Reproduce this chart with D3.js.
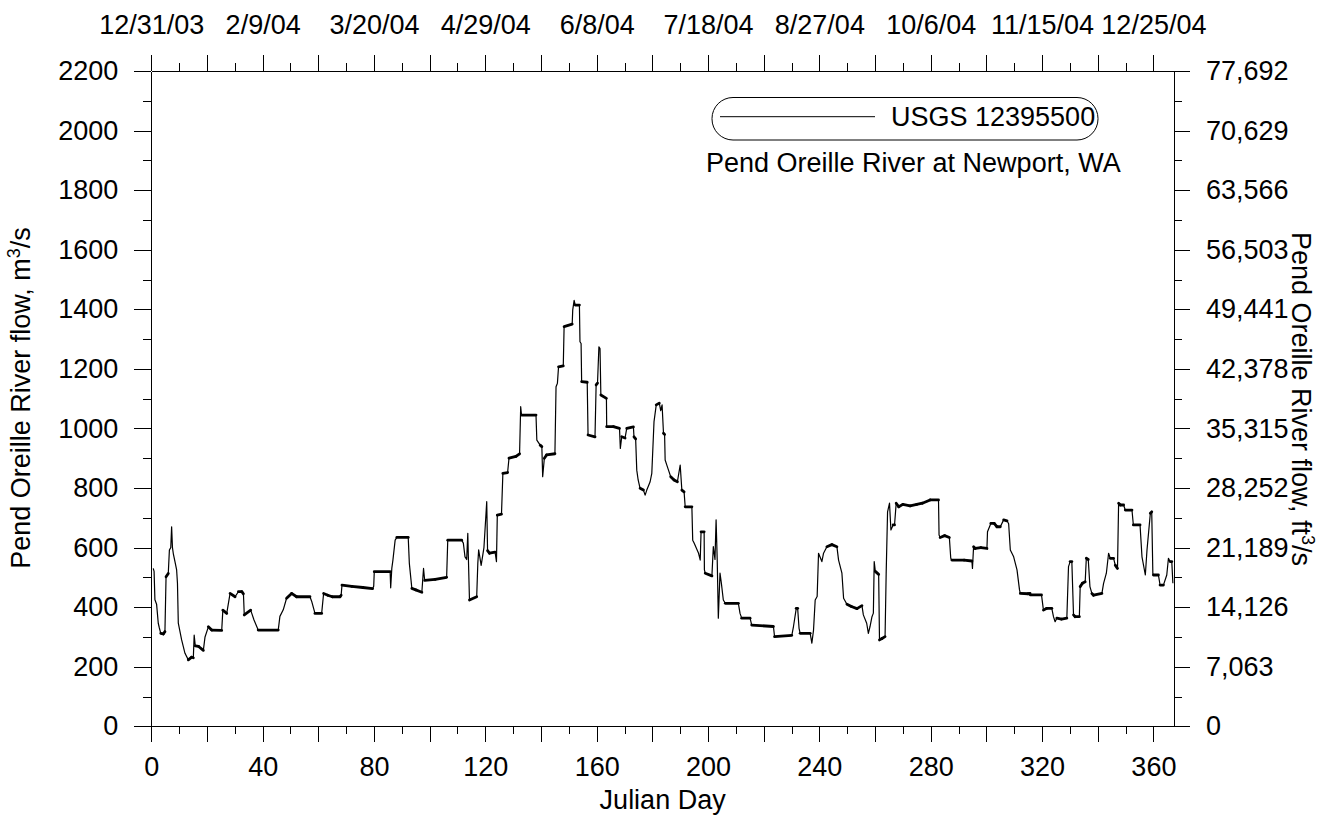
<!DOCTYPE html>
<html>
<head>
<meta charset="utf-8">
<script src="https://cdn.jsdelivr.net/npm/d3@7"></script>
<style>
  html, body { margin: 0; padding: 0; background: #fff; }
  svg text { font-family: "Liberation Sans", Arial, Helvetica, sans-serif; fill: #000; }
  .axis path, .axis line { stroke: #000; stroke-width: 1; shape-rendering: crispEdges; }
</style>
</head>
<body>
<svg id="chart" width="1326" height="821"></svg>
<script>
// Julian day of each reading (breakpoints of the hourly record)
const days = [
  0.7, 1.0, 1.3, 1.9, 2.5, 2.9, 3.4, 4.3, 4.9, 5.3, 6.1, 6.5, 7.0, 7.3, 7.6, 7.9, 8.5, 9.1, 9.4, 9.7,
  10.9, 12.1, 13.3, 14.5, 15.1, 15.4, 15.8, 17.0, 18.7, 19.3, 20.5, 21.7, 25.3, 25.7, 27.1, 28.3, 30.1, 31.3, 32.5, 33.1,
  33.4, 35.7, 36.9, 38.4, 45.6, 46.2, 47.4, 48.6, 50.4, 52.2, 57.0, 57.6, 58.8, 61.2, 61.9, 63.4, 65.0, 67.8, 68.2, 68.5,
  72.0, 76.0, 79.5, 79.9, 80.1, 85.8, 86.0, 86.4, 86.8, 87.6, 88.2, 92.3, 92.7, 93.6, 95.0, 97.2, 97.5, 97.8, 98.2, 102.0,
  106.1, 106.5, 111.5, 112.1, 112.7, 113.3, 113.7, 113.9, 114.3, 116.9, 117.3, 117.6, 118.5, 119.5, 120.5, 120.8, 121.5, 123.5, 124.0, 124.3,
  125.8, 126.3, 128.0, 128.5, 131.0, 132.3, 132.7, 133.0, 138.2, 138.5, 139.7, 140.3, 140.6, 141.2, 142.0, 145.0, 145.4, 145.9, 146.3, 148.0,
  148.3, 151.2, 151.4, 151.9, 152.3, 153.8, 154.0, 154.4, 154.6, 156.6, 156.9, 159.4, 159.8, 160.3, 160.8, 161.2, 161.5, 163.5, 163.6, 166.0,
  168.2, 168.5, 169.0, 170.2, 170.8, 173.2, 173.4, 174.0, 174.4, 174.9, 175.6, 176.8, 177.4, 178.0, 179.2, 179.8, 180.6, 181.4, 182.5, 183.0,
  183.5, 184.0, 184.4, 184.6, 185.2, 185.8, 186.6, 187.8, 189.0, 190.0, 190.6, 191.4, 191.8, 194.2, 194.5, 195.0, 196.6, 197.2, 197.5, 198.6,
  198.7, 199.0, 201.4, 201.9, 202.5, 202.9, 203.3, 203.7, 204.3, 204.8, 205.5, 206.2, 210.9, 211.5, 212.1, 215.1, 215.7, 223.5, 223.9, 230.1,
  230.7, 231.7, 232.2, 232.7, 233.1, 236.7, 237.3, 237.9, 238.5, 239.2, 239.7, 240.9, 241.5, 242.7, 244.5, 246.3, 246.9, 248.1, 248.7, 249.9,
  251.5, 253.5, 255.3, 255.8, 257.0, 257.6, 258.2, 258.9, 259.4, 259.7, 260.1, 261.3, 261.6, 262.5, 263.6, 264.0, 264.5, 265.2, 265.7, 266.5,
  267.0, 267.6, 268.5, 270.0, 272.6, 275.0, 277.0, 279.8, 282.8, 283.0, 283.4, 285.0, 286.7, 287.2, 287.6, 292.0, 294.8, 295.0, 295.4, 296.0,
  298.0, 300.2, 300.4, 301.6, 302.8, 303.8, 305.0, 306.2, 307.4, 308.0, 308.6, 309.8, 311.0, 311.9, 312.2, 315.0, 315.7, 315.8, 319.8, 320.5,
  321.7, 323.5, 324.1, 324.7, 325.3, 327.0, 328.9, 329.5, 330.1, 330.7, 331.3, 331.9, 333.4, 333.7, 334.5, 335.5, 335.9, 336.6, 337.2, 337.9,
  338.5, 341.5, 342.1, 343.1, 343.9, 344.5, 345.7, 346.3, 347.1, 347.5, 348.1, 349.3, 349.9, 352.3, 352.8, 355.2, 355.9, 357.1, 357.7, 358.9,
  359.4, 359.8, 360.0, 361.8, 362.4, 363.6, 364.8, 365.4, 366.0, 366.6, 367.0
];

// Discharge at each reading, m³/s
const flow = [
  530, 520, 425, 410, 346, 330, 312, 310, 318, 502, 513, 592, 600, 670, 600, 580, 553, 525, 480, 346,
  290, 245, 223, 232, 230, 306, 270, 268, 255, 300, 334, 323, 322, 390, 379, 446, 435, 452, 452, 445,
  374, 390, 357, 323, 323, 369, 391, 430, 446, 435, 435, 420, 379, 379, 446, 440, 435, 435, 440, 474,
  470, 466, 462, 470, 519, 519, 465, 530, 558, 625, 634, 634, 547, 463, 458, 450, 491, 530, 490, 493,
  500, 625, 625, 615, 569, 560, 648, 569, 424, 435, 547, 592, 540, 600, 754, 590, 581, 585, 553, 709,
  712, 849, 852, 900, 906, 915, 1073, 1045, 1045, 961, 944, 939, 838, 900, 911, 915, 1140, 1152, 1207, 1210,
  1342, 1350, 1398, 1430, 1414, 1414, 1291, 1285, 1157, 1155, 978, 972, 1146, 1152, 1274, 1268, 1112, 1101, 1006, 1006,
  1000, 933, 972, 968, 1000, 1005, 972, 965, 860, 827, 799, 793, 776, 793, 821, 849, 1023, 1079, 1085, 1060,
  1079, 984, 980, 894, 877, 860, 838, 827, 821, 877, 793, 787, 737, 737, 625, 615, 581, 558, 653, 653,
  525, 514, 505, 603, 560, 693, 560, 363, 514, 480, 424, 413, 413, 379, 363, 363, 340, 335, 301, 305,
  335, 396, 396, 329, 312, 312, 279, 323, 424, 436, 581, 553, 581, 603, 610, 603, 558, 514, 430, 410,
  402, 395, 405, 374, 346, 312, 335, 368, 380, 553, 520, 510, 290, 295, 301, 514, 720, 749, 659, 676,
  676, 749, 737, 745, 740, 745, 749, 760, 760, 642, 634, 640, 634, 564, 558, 558, 555, 530, 603, 597,
  600, 597, 653, 681, 681, 670, 670, 693, 690, 680, 592, 569, 525, 458, 446, 445, 446, 441, 441, 390,
  396, 396, 368, 351, 363, 360, 363, 536, 553, 553, 374, 368, 368, 469, 480, 485, 564, 560, 469, 446,
  440, 446, 480, 514, 581, 564, 564, 541, 530, 749, 743, 743, 726, 726, 676, 676, 569, 508, 592, 715,
  720, 514, 508, 508, 474, 474, 508, 564, 553, 553, 480
];

// Axis ticks and labels
const bottomLabelDays = [0, 40, 80, 120, 160, 200, 240, 280, 320, 360];
const topDateLabels = ["12/31/03", "2/9/04", "3/20/04", "4/29/04", "6/8/04",
                       "7/18/04", "8/27/04", "10/6/04", "11/15/04", "12/25/04"];
const leftTicks = [0, 200, 400, 600, 800, 1000, 1200, 1400, 1600, 1800, 2000, 2200];
const rightTickLabels = ["0", "7,063", "14,126", "21,189", "28,252", "35,315",
                         "42,378", "49,441", "56,503", "63,566", "70,629", "77,692"];

const legendLabel = "USGS 12395500";
const stationName = "Pend Oreille River at Newport, WA";

const svg = d3.select("#chart");
const FONT = 27;

const plot = { left: 151.3, right: 1174, top: 71, bottom: 726.3 };

const x = d3.scaleLinear().domain([0, 367.4]).range([plot.left, plot.right]);
const y = d3.scaleLinear().domain([0, 2200]).range([plot.bottom, plot.top]);

const majorX = d3.range(0, 361, 20);
const minorX = d3.range(10, 367, 20);
const minorY = d3.range(100, 2200, 200);

function styleAxis(g) {
  g.attr("class", "axis");
  g.select(".domain").attr("stroke", "#000");
  g.selectAll("text").style("font-size", FONT + "px").attr("fill", "#000");
}

// bottom axis: minor ticks, then major ticks with labels every 40 days
svg.append("g").attr("transform", `translate(0,${plot.bottom})`)
  .call(d3.axisBottom(x).tickValues(minorX).tickSize(8).tickSizeOuter(0).tickFormat(""))
  .call(styleAxis);
svg.append("g").attr("transform", `translate(0,${plot.bottom})`)
  .call(d3.axisBottom(x).tickValues(majorX).tickSize(16).tickSizeOuter(0).tickPadding(15)
    .tickFormat(d => bottomLabelDays.includes(d) ? d : ""))
  .call(styleAxis);

// top axis: calendar dates
svg.append("g").attr("transform", `translate(0,${plot.top})`)
  .call(d3.axisTop(x).tickValues(minorX).tickSize(8).tickSizeOuter(0).tickFormat(""))
  .call(styleAxis);
svg.append("g").attr("transform", `translate(0,${plot.top})`)
  .call(d3.axisTop(x).tickValues(majorX).tickSize(16).tickSizeOuter(0).tickPadding(21)
    .tickFormat(d => {
      const i = bottomLabelDays.indexOf(d);
      return i >= 0 ? topDateLabels[i] : "";
    }))
  .call(styleAxis);

// left axis, m³/s
svg.append("g").attr("transform", `translate(${plot.left},0)`)
  .call(d3.axisLeft(y).tickValues(minorY).tickSize(8).tickSizeOuter(0).tickFormat(""))
  .call(styleAxis);
svg.append("g").attr("transform", `translate(${plot.left},0)`)
  .call(d3.axisLeft(y).tickValues(leftTicks).tickSize(17).tickSizeOuter(0).tickPadding(16)
    .tickFormat(d3.format("d")))
  .call(styleAxis);

// right axis, ft³/s (same positions as the m³/s ticks)
svg.append("g").attr("transform", `translate(${plot.right},0)`)
  .call(d3.axisRight(y).tickValues(minorY).tickSize(8).tickSizeOuter(0).tickFormat(""))
  .call(styleAxis);
svg.append("g").attr("transform", `translate(${plot.right},0)`)
  .call(d3.axisRight(y).tickValues(leftTicks).tickSize(16).tickSizeOuter(0).tickPadding(16)
    .tickFormat((d, i) => rightTickLabels[i]))
  .call(styleAxis);

// discharge trace: thin line for the whole record, heavier where the flow
// holds near-steady (the hourly jitter thickens those stretches)
const series = days.map((d, i) => ({ day: d, q: flow[i] }));
const line = d3.line().x(d => x(d.day)).y(d => y(d.q));

svg.append("path")
  .datum(series)
  .attr("fill", "none")
  .attr("stroke", "#000")
  .attr("stroke-width", 1.2)
  .attr("stroke-linejoin", "round")
  .attr("d", line);

const flatSegs = d3.pairs(series).filter(([a, b]) => {
  const dx = Math.abs(x(b.day) - x(a.day));
  const dy = Math.abs(y(b.q) - y(a.q));
  return dy < dx * 1.5;
});
svg.append("g").selectAll("path")
  .data(flatSegs)
  .join("path")
  .attr("fill", "none")
  .attr("stroke", "#000")
  .attr("stroke-width", 2.8)
  .attr("stroke-linecap", "round")
  .attr("d", d => line(d));

// legend box
const lg = svg.append("g");
lg.append("rect")
  .attr("x", 712).attr("y", 97.5).attr("width", 386).attr("height", 42.5)
  .attr("rx", 21).attr("ry", 21)
  .attr("fill", "#fff").attr("stroke", "#000").attr("stroke-width", 1);
lg.append("line")
  .attr("x1", 720).attr("x2", 875).attr("y1", 116.7).attr("y2", 116.7)
  .attr("stroke", "#000").attr("stroke-width", 1);
lg.append("text").attr("x", 891).attr("y", 125.5)
  .style("font-size", FONT + "px").text(legendLabel);
svg.append("text").attr("x", 706).attr("y", 171.5)
  .style("font-size", FONT + "px").text(stationName);

// axis titles
svg.append("text")
  .attr("text-anchor", "middle")
  .attr("x", plot.left + (plot.right - plot.left) / 2).attr("y", 809)
  .style("font-size", FONT + "px").text("Julian Day");

const lt = svg.append("text")
  .attr("text-anchor", "middle")
  .attr("transform", `translate(30,398) rotate(-90)`)
  .style("font-size", FONT + "px");
lt.append("tspan").text("Pend Oreille River flow, m");
lt.append("tspan").attr("dy", -10).style("font-size", "18px").text("3");
lt.append("tspan").attr("dy", 10).text("/s");

const rt = svg.append("text")
  .attr("text-anchor", "middle")
  .attr("transform", `translate(1292,399) rotate(90)`)
  .style("font-size", FONT + "px");
rt.append("tspan").text("Pend Oreille River flow, ft");
rt.append("tspan").attr("dy", -10).style("font-size", "18px").text("3");
rt.append("tspan").attr("dy", 10).text("/s");
</script>
</body>
</html>
